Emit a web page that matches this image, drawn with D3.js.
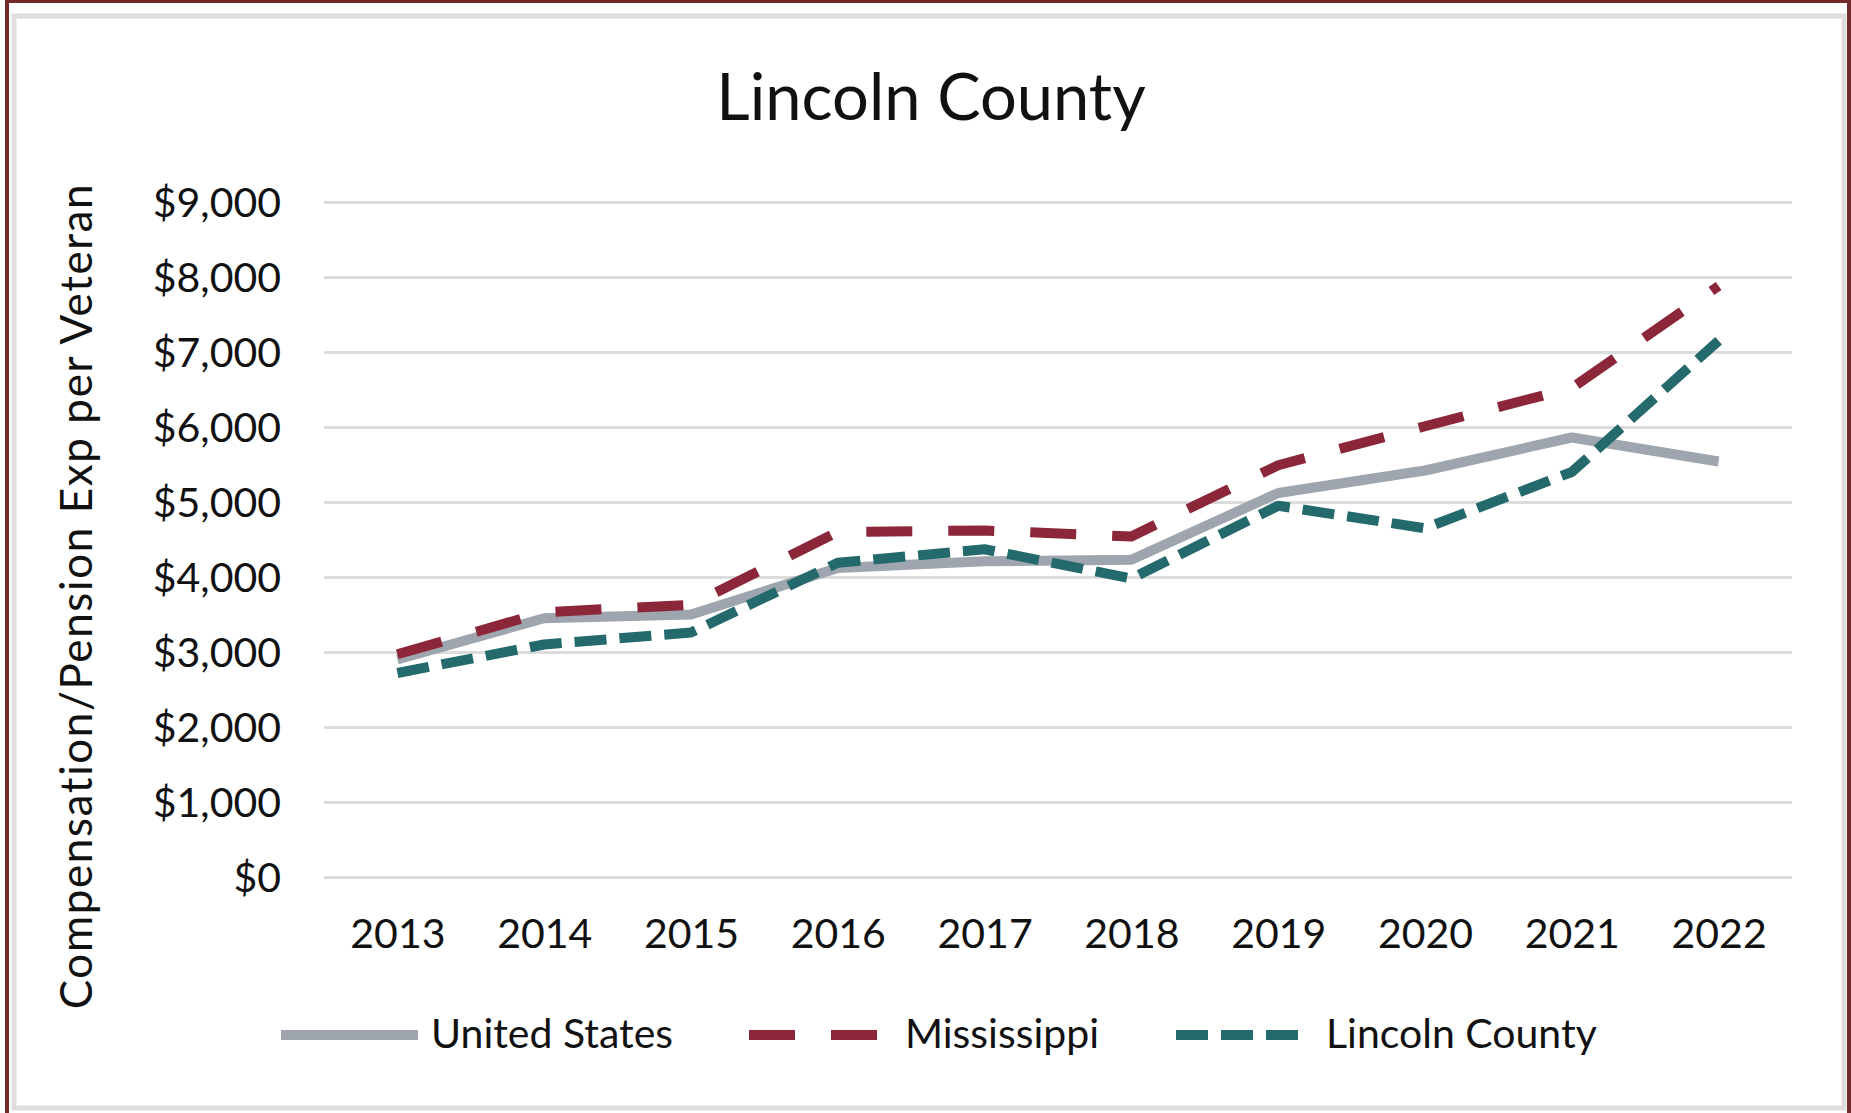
<!DOCTYPE html>
<html lang="en">

<head>
	<title>Lincoln County</title>
	<meta charset="utf-8">
	<script src="https://d3js.org/d3.v7.min.js"></script>
	<style>
		body { margin: 0; background: #fff; }
		text { font-family: Lato, "Open Sans", sans-serif; fill: #111; }
	</style>
</head>

<body>
	<div id="container1"></div>
	<script>
		// Data
		const years = ["2013", "2014", "2015", "2016", "2017", "2018", "2019", "2020", "2021", "2022"];
		const unitedStates = [2900, 3450, 3500, 4120, 4210, 4230, 5120, 5420, 5860, 5540];
		const mississippi = [2970, 3530, 3630, 4600, 4620, 4540, 5490, 6010, 6520, 7880];
		const lincolnCounty = [2720, 3100, 3260, 4190, 4370, 3980, 4950, 4650, 5400, 7150];
		const yTicks = [0, 1000, 2000, 3000, 4000, 5000, 6000, 7000, 8000, 9000];

		const series = [
			{ name: "United States", values: unitedStates, color: "#9ea5ae", dash: null },
			{ name: "Mississippi", values: mississippi, color: "#8b2739", dash: "46,36" },
			{ name: "Lincoln County", values: lincolnCounty, color: "#24696b", dash: "32,13" }
		];

		// Dimensions
		const W = 1851, H = 1113;
		const margin = { top: 202, right: 59, bottom: 236, left: 324 };
		const width = W - margin.left - margin.right;
		const height = H - margin.top - margin.bottom;

		const svg = d3.select("#container1")
			.append("svg")
			.attr("width", W)
			.attr("height", H);

		// Frame
		svg.append("rect")
			.attr("x", 7).attr("y", 1)
			.attr("width", W - 9).attr("height", H + 10)
			.attr("fill", "none")
			.attr("stroke", "#722a2d")
			.attr("stroke-width", 4);

		svg.append("rect")
			.attr("x", 14).attr("y", 16)
			.attr("width", 1830).attr("height", 1092)
			.attr("fill", "#fff")
			.attr("stroke", "#dedede")
			.attr("stroke-width", 5);

		// Title
		svg.append("text")
			.attr("x", 931)
			.attr("y", 120)
			.attr("text-anchor", "middle")
			.style("font-size", "65px")
			.text("Lincoln County");

		const g = svg.append("g")
			.attr("transform", `translate(${margin.left},${margin.top})`);

		// Scales
		const x = d3.scalePoint()
			.domain(years)
			.range([0, width])
			.padding(0.5);

		const y = d3.scaleLinear()
			.domain([0, 9000])
			.range([height, 0]);

		// Gridlines
		g.append("g")
			.call(d3.axisLeft(y).tickValues(yTicks).tickSize(-width).tickFormat(""))
			.call(a => a.select(".domain").remove())
			.selectAll("line")
			.attr("stroke", "#dcdcdc")
			.attr("stroke-width", 3);

		// Y axis labels
		g.append("g")
			.call(d3.axisLeft(y).tickValues(yTicks).tickSize(0).tickPadding(43).tickFormat(d3.format("$,")))
			.call(a => a.select(".domain").remove())
			.selectAll("text")
			.attr("dy", "0.36em")
			.style("font-size", "41px")
			.style("font-family", "Lato, sans-serif")
			.style("fill", "#111");

		// X axis labels
		g.append("g")
			.attr("transform", `translate(0,${height})`)
			.call(d3.axisBottom(x).tickSize(0))
			.call(a => a.select(".domain").remove())
			.selectAll("text")
			.attr("dy", null)
			.attr("y", 71)
			.style("font-size", "41px")
			.style("font-family", "Lato, sans-serif")
			.style("fill", "#111");

		// Y axis title
		svg.append("text")
			.attr("transform", "translate(92,596) rotate(-90)")
			.attr("text-anchor", "middle")
			.style("font-size", "44px")
			.style("letter-spacing", "1.6px")
			.text("Compensation/Pension Exp per Veteran");

		// Lines
		const line = d3.line()
			.x((d, i) => x(years[i]))
			.y(d => y(d));

		g.selectAll(".series")
			.data(series)
			.enter()
			.append("path")
			.attr("class", "series")
			.attr("d", d => line(d.values))
			.attr("fill", "none")
			.attr("stroke", d => d.color)
			.attr("stroke-width", 10)
			.attr("stroke-linejoin", "round")
			.attr("stroke-dasharray", d => d.dash);

		// Legend
		const legendItems = [
			{ x1: 281, tx: 431 },
			{ x1: 749, tx: 905 },
			{ x1: 1176, tx: 1326 }
		];

		const legend = svg.selectAll(".legend")
			.data(series)
			.enter()
			.append("g")
			.attr("class", "legend");

		legend.append("line")
			.attr("x1", (d, i) => legendItems[i].x1)
			.attr("x2", (d, i) => legendItems[i].x1 + (i === 0 ? 137 : 128))
			.attr("y1", 1035)
			.attr("y2", 1035)
			.attr("stroke", d => d.color)
			.attr("stroke-width", 10)
			.attr("stroke-dasharray", d => d.dash);

		legend.append("text")
			.attr("x", (d, i) => legendItems[i].tx)
			.attr("y", 1048)
			.style("font-size", "41px")
			.text(d => d.name);
	</script>
</body>

</html>
